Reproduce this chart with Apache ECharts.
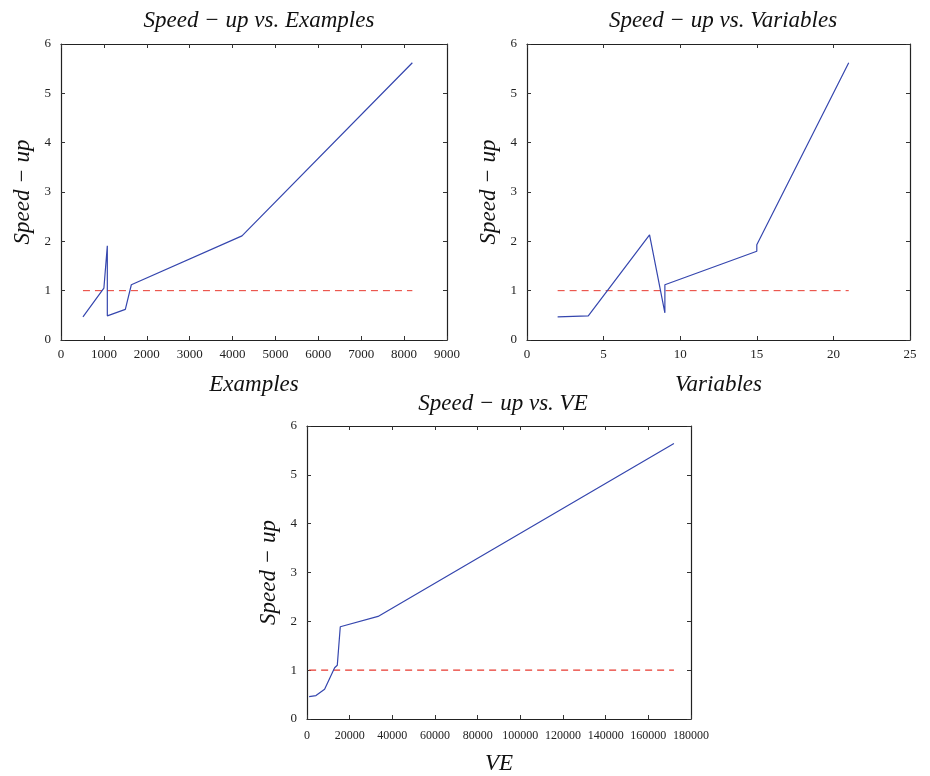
<!DOCTYPE html>
<html>
<head>
<meta charset="utf-8">
<script src="https://cdn.jsdelivr.net/npm/echarts@6/dist/echarts.min.js"></script>
<style>
  html, body { margin: 0; background: #fff; }
  #chart { width: 930px; height: 776px; }
</style>
</head>
<body>
<div id="chart"></div>
<script>
// speed-up measured against examples / variables / VE
const examples = [512, 1000, 1080, 1080, 1500, 1640, 4220, 8192]
const examplesSpeedup = [0.47, 1.05, 1.91, 0.49, 0.62, 1.12, 2.11, 5.62]
const variables = [2, 4, 8, 9, 9, 15, 15, 21]
const variablesSpeedup = [0.47, 0.49, 2.13, 0.55, 1.12, 1.80, 1.93, 5.62]
const ve = [1000, 4200, 8250, 12950, 14200, 15600, 33300, 172000]
const veSpeedup = [0.46, 0.48, 0.61, 1.05, 1.10, 1.89, 2.10, 5.64]
const baseline = 1

const serif = 'Liberation Serif'
const lineColor = '#3546ae'

const chart = echarts.init(document.getElementById('chart'))

function pairs(xs, ys) {
  return xs.map((x, i) => [x, ys[i]])
}
function refLine(xs) {
  return [[xs[0], baseline], [xs[xs.length - 1], baseline]]
}

const boxLine = { show: true, onZero: false, lineStyle: { color: '#222', width: 1.2 } }
const tick = { show: true, inside: true, length: 4, lineStyle: { color: '#333' } }
const nameStyle = { fontFamily: serif, fontStyle: 'italic', fontSize: 23, color: '#111' }

function xAxes(gridIndex, max, interval, name, labelSize, margin) {
  return [
    {
      type: 'value', gridIndex, min: 0, max, interval, position: 'bottom',
      axisLine: boxLine, axisTick: tick, splitLine: { show: false },
      axisLabel: { color: '#222', fontFamily: serif, fontSize: labelSize, margin, formatter: v => String(v) },
      name, nameLocation: 'middle', nameGap: 33, nameTextStyle: nameStyle
    },
    {
      type: 'value', gridIndex, min: 0, max, interval, position: 'top',
      axisLine: boxLine, axisTick: tick, axisLabel: { show: false }, splitLine: { show: false }
    }
  ]
}
function yAxes(gridIndex) {
  return [
    {
      type: 'value', gridIndex, min: 0, max: 6, interval: 1, position: 'left',
      axisLine: boxLine, axisTick: tick, splitLine: { show: false },
      axisLabel: { color: '#222', fontFamily: serif, fontSize: 13, margin: 10 },
      name: 'Speed − up', nameLocation: 'middle', nameRotate: 90, nameGap: 27,
      nameTextStyle: nameStyle
    },
    {
      type: 'value', gridIndex, min: 0, max: 6, interval: 1, position: 'right',
      axisLine: boxLine, axisTick: tick, axisLabel: { show: false }, splitLine: { show: false }
    }
  ]
}

function dataSeries(i, xs, ys) {
  return {
    type: 'line', xAxisIndex: i * 2, yAxisIndex: i * 2, data: pairs(xs, ys),
    showSymbol: false, lineStyle: { color: lineColor, width: 1.2 }, z: 3
  }
}
function baselineSeries(i, xs, width) {
  return {
    type: 'line', xAxisIndex: i * 2, yAxisIndex: i * 2, data: refLine(xs),
    showSymbol: false, lineStyle: { color: '#e8392f', width, type: [7, 5] }, z: 2
  }
}

const titleStyle = { fontFamily: serif, fontStyle: 'italic', fontWeight: 'normal', fontSize: 23, color: '#111' }

chart.setOption({
  animation: false,
  title: [
    { text: 'Speed − up vs. Examples', left: 254, top: 4, textAlign: 'center', textStyle: titleStyle },
    { text: 'Speed − up vs. Variables', left: 718, top: 4, textAlign: 'center', textStyle: titleStyle },
    { text: 'Speed − up vs. VE', left: 498, top: 387, textAlign: 'center', textStyle: titleStyle }
  ],
  grid: [
    { left: 61, right: 483, top: 44, bottom: 436 },
    { left: 527, right: 20, top: 44, bottom: 436 },
    { left: 307, right: 239, top: 426, bottom: 52 }
  ],
  xAxis: [
    ...xAxes(0, 9000, 1000, 'Examples', 13, 8),
    ...xAxes(1, 25, 5, 'Variables', 13, 8),
    ...xAxes(2, 180000, 20000, 'VE', 12, 11)
  ],
  yAxis: [...yAxes(0), ...yAxes(1), ...yAxes(2)],
  series: [
    baselineSeries(0, examples, 1),
    dataSeries(0, examples, examplesSpeedup),
    baselineSeries(1, variables, 1),
    dataSeries(1, variables, variablesSpeedup),
    baselineSeries(2, ve, 1.4),
    dataSeries(2, ve, veSpeedup)
  ]
})
</script>
</body>
</html>
